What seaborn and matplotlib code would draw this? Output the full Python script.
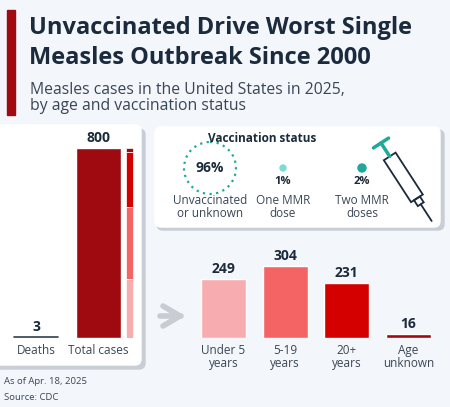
import matplotlib
matplotlib.use("Agg")
import matplotlib.pyplot as plt
import seaborn as sns
import numpy as np
from matplotlib.patches import FancyBboxPatch, Rectangle, Circle, Polygon

sns.set_theme(style="white")
plt.rcParams['font.family'] = ['Open Sans', 'DejaVu Sans']

totals_labels = ["Deaths", "Total cases"]
totals_values = [3, 800]
age_labels = ["Under 5\nyears", "5-19\nyears", "20+\nyears", "Age\nunknown"]
age_values = [249, 304, 231, 16]
age_colors = ["#f7adb0", "#f46464", "#d40000", "#9e0a0f"]
vacc_labels = ["Unvaccinated\nor unknown", "One MMR\ndose", "Two MMR\ndoses"]
vacc_values = ["96%", "1%", "2%"]

W, H = 450, 407
fig = plt.figure(figsize=(4.5, 4.07), dpi=100)
fig.patch.set_facecolor("#f3f6fa")
bg = fig.add_axes([0, 0, 1, 1], zorder=0)
bg.set_xlim(0, W); bg.set_ylim(H, 0); bg.axis("off")

navy = "#1b2a3c"
bg.add_patch(Rectangle((7, 10), 8, 105, color="#a00a10"))
bg.text(29, 28, "Unvaccinated Drive Worst Single", fontsize=17, fontweight="bold", color=navy, va="center")
bg.text(29, 58, "Measles Outbreak Since 2000", fontsize=17, fontweight="bold", color=navy, va="center")
bg.text(30, 90, "Measles cases in the United States in 2025,", fontsize=11.3, color="#3a4656", va="center")
bg.text(30, 106, "by age and vaccination status", fontsize=11.3, color="#3a4656", va="center")

# cards
bg.add_patch(FancyBboxPatch((-5, 129), 150, 240, boxstyle="round,pad=0,rounding_size=6", color="#c9ced6"))
bg.add_patch(FancyBboxPatch((-5, 125), 146, 240, boxstyle="round,pad=0,rounding_size=6", color="white"))
bg.add_patch(FancyBboxPatch((157, 130), 287, 100, boxstyle="round,pad=0,rounding_size=6", color="#c9ced6"))
bg.add_patch(FancyBboxPatch((155, 127), 285, 100, boxstyle="round,pad=0,rounding_size=6", color="white"))

bg.text(262, 139, "Vaccination status", fontsize=8.5, fontweight="bold", color=navy, ha="center", va="center")
bg.add_patch(Circle((210, 168), 26, fill=False, ls=(0, (1, 2)), lw=1.6, ec="#1fa99a"))
bg.text(210, 168, vacc_values[0], fontsize=10, fontweight="bold", color=navy, ha="center", va="center")
bg.add_patch(Circle((283, 168), 3, color="#7fdcd3"))
bg.add_patch(Circle((362, 168), 4, color="#1fa99a"))
bg.text(283, 181, vacc_values[1], fontsize=8, fontweight="bold", color=navy, ha="center", va="center")
bg.text(362, 181, vacc_values[2], fontsize=8, fontweight="bold", color=navy, ha="center", va="center")
for xx, lab in zip([210, 283, 362], vacc_labels):
    bg.text(xx, 207, lab, fontsize=8.5, color="#3a4656", ha="center", va="center", linespacing=1.05)
# syringe
ang = np.deg2rad(57)
d = np.array([np.cos(ang), np.sin(ang)])
n = np.array([-d[1], d[0]])
p0 = np.array([381, 143])
bg.plot([p0[0] - n[0]*9, p0[0] + n[0]*9], [p0[1] - n[1]*9, p0[1] + n[1]*9], color="#1fa99a", lw=2.5)
bg.plot([p0[0], p0[0] + d[0]*16], [p0[1], p0[1] + d[1]*16], color="#1fa99a", lw=2.5)
a = p0 + d*16; b = p0 + d*66
bg.add_patch(Polygon([a + n*7, b + n*7, b - n*7, a - n*7], closed=True, fill=False, ec=navy, lw=1.3))
c = b + d*7
bg.add_patch(Polygon([b + n*3.5, c + n*3.5, c - n*3.5, b - n*3.5], closed=True, fill=False, ec=navy, lw=1.3))
e = c + d*20
bg.plot([c[0], e[0]], [c[1], e[1]], color=navy, lw=1.3)

# arrow
bg.plot([163, 180, 163], [306, 316, 326], color="#c8ccd3", lw=4, solid_capstyle="round")
bg.plot([160, 181], [316, 316], color="#c8ccd3", lw=4, solid_capstyle="round")

bg.text(4, 381, "As of Apr. 18, 2025", fontsize=6.8, color="#3a4656", va="center")
bg.text(4, 397, "Source: CDC", fontsize=6.8, color="#3a4656", va="center")

bottom = 1 - 338 / H
height = 190 / H

# left chart
ax1 = fig.add_axes([8 / W, bottom, 134 / W, height], zorder=2)
ax1.patch.set_alpha(0)
sns.barplot(x=totals_labels, y=totals_values, palette=["#2d3e50", "#9e0a0f"], hue=totals_labels,
            legend=False, width=0.72, ax=ax1, saturation=1)
ax1.plot([-0.36, 0.36], [totals_values[0], totals_values[0]], color="#2d3e50", lw=1.2)
bot = 0
for v, col in zip(age_values, age_colors):
    ax1.bar(1.5, v, bottom=bot, width=0.11, color=col, edgecolor="white", linewidth=0.5)
    bot += v
ax1.set_xlim(-0.45, 1.7); ax1.set_ylim(0, 800)
for i, v in enumerate(totals_values):
    ax1.text(i, v + 12, str(v), ha="center", va="bottom", fontsize=10, fontweight="bold", color=navy)
ax1.set_yticks([]); ax1.set_xlabel(""); ax1.set_ylabel("")
ax1.tick_params(axis="x", length=0, labelsize=8.5, labelcolor="#3a4656", pad=4)
sns.despine(ax=ax1, left=True, bottom=True)

# age chart
ax2 = fig.add_axes([190 / W, bottom, 250 / W, height], zorder=2)
ax2.patch.set_alpha(0)
sns.barplot(x=age_labels, y=age_values, hue=age_labels, palette=age_colors, legend=False,
            width=0.73, ax=ax2, saturation=1)
ax2.set_xlim(-0.54, 3.51); ax2.set_ylim(0, 800)
for i, v in enumerate(age_values):
    ax2.text(i, v + 12, str(v), ha="center", va="bottom", fontsize=10, fontweight="bold", color=navy)
ax2.set_yticks([]); ax2.set_xlabel(""); ax2.set_ylabel("")
ax2.tick_params(axis="x", length=0, labelsize=8.5, labelcolor="#3a4656", pad=4)
for t in ax2.get_xticklabels():
    t.set_linespacing(1.0)
sns.despine(ax=ax2, left=True, bottom=True)

fig.savefig("out.png", dpi=100, facecolor=fig.get_facecolor())
